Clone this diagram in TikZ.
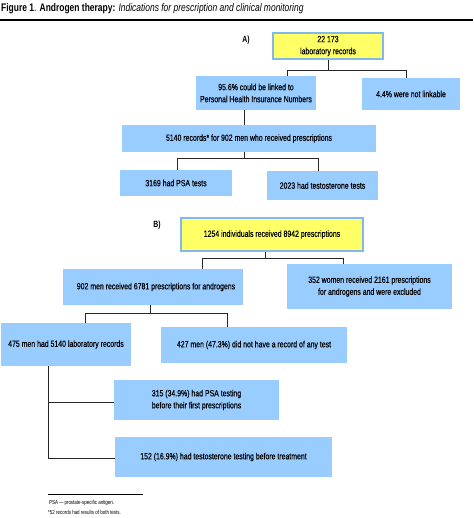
\documentclass[tikz,border=0pt]{standalone}
\usepackage{fontspec}
\setmainfont{Liberation Sans}[FakeStretch=0.77]
\newfontfamily\boxfont{Liberation Sans}[FakeStretch=0.77,FakeBold=0.3]
\usetikzlibrary{calc}

\definecolor{boxblue}{RGB}{153,204,255}
\definecolor{edgeblue}{RGB}{130,185,235}
\definecolor{boxyellow}{RGB}{255,255,102}

\begin{document}
\begin{tikzpicture}[x=1pt,y=-1pt,
  bluebox/.style={fill=boxblue,inner sep=0pt,align=center,
    font=\boxfont\fontsize{9}{12}\selectfont},
  yelbox/.style={bluebox,fill=boxyellow,draw=edgeblue,line width=1.5pt},
  wire/.style={line width=0.8pt,black!85}]
\useasboundingbox (0,0) rectangle (473,518);

% Title
\node[anchor=west,inner sep=0pt,font=\fontsize{11}{13}\selectfont] (title) at (1,9)
  {\textbf{Figure 1}. \textbf{Androgen therapy:} \textit{Indications for prescription and clinical monitoring}};
\draw[line width=1.6pt] (0,20) -- (473,20);

% Part A
\node[font=\bfseries\fontsize{9}{10}\selectfont] (labA) at (246,40) {A)};
\node[yelbox,minimum width=110pt,minimum height=26pt] (t1) at (328,46) {22 173\\laboratory records};
\node[bluebox,minimum width=120pt,minimum height=34pt] (lnk) at (256,93) {95.6\% could be linked to\\Personal Health Insurance Numbers};
\node[bluebox,minimum width=98pt,minimum height=32pt] (nolnk) at (411,94) {4.4\% were not linkable};
\node[bluebox,minimum width=254pt,minimum height=27pt] (rec) at (249,138.5) {5140 records* for 902 men who received prescriptions};
\node[bluebox,minimum width=112pt,minimum height=26pt] (psa) at (176,183) {3169 had PSA tests};
\node[bluebox,minimum width=111pt,minimum height=29pt] (tst) at (322.5,185.5) {2023 had testosterone tests};

\coordinate (aT) at (t1.south |- 0,70);
\coordinate (aL) at (287,70);
\coordinate (aR) at (406,70);
\draw[wire] (t1.south) -- (aT);
\draw[wire] (aL |- lnk.north) -- (aL) -- (aR) -- (aR |- nolnk.north);

\coordinate (bT) at (244,110);
\draw[wire] (bT) -- (bT |- rec.north);

\coordinate (cT) at (244,152);
\coordinate (cL) at (177,158);
\coordinate (cR) at (318,158);
\draw[wire] (cT) -- (cT |- cL);
\draw[wire] (cL |- psa.north) -- (cL) -- (cR) -- (cR |- tst.north);

% Part B
\node[font=\bfseries\fontsize{9}{10}\selectfont] (labB) at (157,225) {B)};
\node[yelbox,minimum width=182pt,minimum height=33pt] (ind) at (272,234.5) {1254 individuals received 8942 prescriptions};
\node[bluebox,minimum width=180pt,minimum height=36pt] (men) at (153,287) {\hspace{6pt}902 men received 6781 prescriptions for androgens};
\node[bluebox,minimum width=165pt,minimum height=45pt] (wom) at (369.5,286.5) {352 women received 2161 prescriptions\\for androgens and were excluded};
\node[bluebox,minimum width=130pt,minimum height=43pt] (had) at (66,344.5) {475 men had 5140 laboratory records};
\node[bluebox,minimum width=186pt,minimum height=36pt] (none) at (254,345) {427 men (47.3\%) did not have a record of any test};
\node[bluebox,minimum width=165pt,minimum height=40pt] (psat) at (196.5,400) {315 (34.9\%) had PSA testing\\before their first prescriptions};
\node[bluebox,minimum width=217pt,minimum height=40pt] (tstt) at (223.5,457) {152 (16.9\%) had testosterone testing before treatment};

\coordinate (dT) at (265,258);
\coordinate (dL) at (202,258);
\coordinate (dR) at (343,258);
\draw[wire] (ind.south -| dT) -- (dT);
\draw[wire] (dL |- men.north) -- (dL) -- (dR) -- (dR |- wom.north);

\coordinate (eT) at (150,313);
\coordinate (eL) at (85,313);
\coordinate (eR) at (227,313);
\draw[wire] (men.south -| eT) -- (eT);
\draw[wire] (eL |- had.north) -- (eL) -- (eR) -- (eR |- none.north);

\coordinate (fT) at (48,366);
\coordinate (fM) at (48,402);
\coordinate (fB) at (48,458);
\draw[wire] (fT) -- (fB) -- (fB -| tstt.west);
\draw[wire] (fM) -- (fM -| psat.west);

% Footnotes
\draw[line width=0.6pt] (48,494) -- (143,494);
\node[anchor=west,inner sep=0pt,font=\fontsize{5.8}{7}\selectfont] (fn1) at (49,503) {PSA\,---\,prostate-specific antigen.};
\node[anchor=west,inner sep=0pt,font=\fontsize{5.8}{7}\selectfont] (fn2) at (48,512) {*52 records had results of both tests.};
\end{tikzpicture}
\end{document}
